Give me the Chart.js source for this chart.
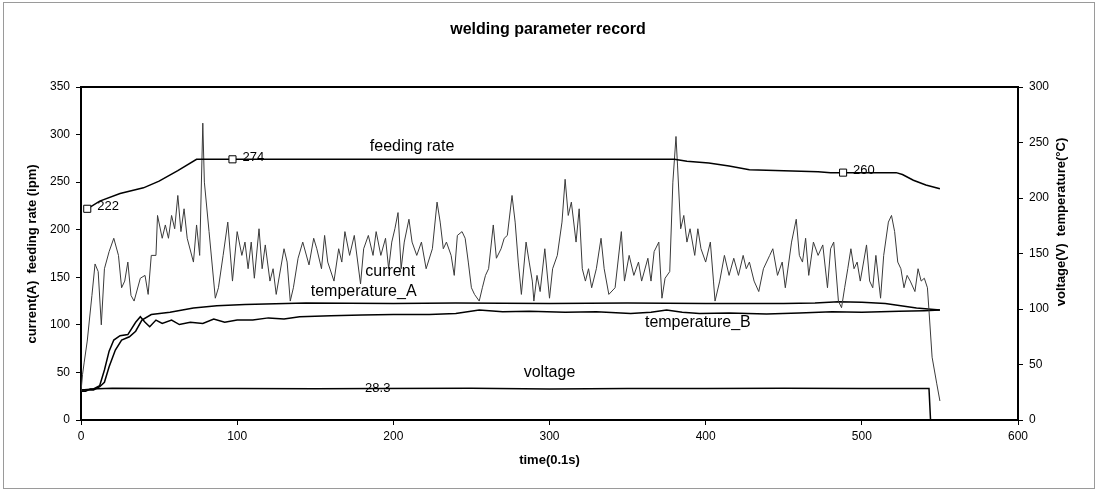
<!DOCTYPE html>
<html>
<head>
<meta charset="utf-8">
<script src="https://cdn.jsdelivr.net/npm/chart.js@4.4.0/dist/chart.umd.min.js"></script>
<style>
  html, body { margin: 0; padding: 0; background: #fff; }
  #wrap { position: relative; width: 1096px; height: 499px; }
</style>
</head>
<body>
<div id="wrap"><canvas id="weldChart"></canvas></div>
<script>
// time axis is in 0.1 s steps
const xTicks = [0, 100, 200, 300, 400, 500, 600];
const leftTicks = [0, 50, 100, 150, 200, 250, 300, 350];
const rightTicks = [0, 50, 100, 150, 200, 250, 300];

// feeding rate (ipm), left axis
const feedTime = [4, 12, 25, 40, 50, 62, 74, 97, 150, 200, 250, 300, 350, 380, 388, 402, 415, 428, 450, 472, 480, 488, 522, 526, 533, 541, 550];
const feedRate = [222, 230, 238, 244, 251, 262, 274, 274, 274, 274, 274, 274, 274, 274, 272, 270, 267, 263, 262, 261, 260, 260, 260, 258, 252, 247, 243];
const feedMarked = [0, 7, 21];

// welding current (A), left axis
const currentTime = [0, 1, 2, 4, 7, 9, 11, 13, 15, 18, 21, 24, 26, 28, 30, 32, 34, 38, 41, 43, 45, 48, 49, 52, 54, 56, 58, 60, 62, 64, 66, 68, 72, 74, 76, 78, 79, 82, 86, 88, 91, 94, 97, 100, 103, 105, 107, 109, 111,
  114, 116, 118, 121, 123, 125, 130, 132, 134, 136, 139, 142, 146, 149, 151, 154, 156, 158, 162, 165, 167, 169, 172, 175, 179, 181, 184, 187, 189, 192, 195, 197, 199, 201, 203, 205, 207, 210, 212, 215, 218, 221, 225,
  228, 230, 232, 234, 237, 239, 241, 244, 246, 248, 250, 252, 255, 257, 259, 261, 264, 266, 269, 271, 273, 276, 278, 280, 282, 285, 287, 289, 290, 292, 294, 297, 300, 302, 305, 308, 310, 312, 314, 317, 319, 321, 323, 325, 327, 330, 333, 335, 338,
  342, 346, 348, 351, 354, 357, 359, 363, 365, 367, 370, 372, 374, 377, 379, 381, 382, 384, 386, 388, 390, 393, 395, 397, 400, 403, 405, 406, 409, 412, 415, 418, 421, 424, 426, 428, 431, 434, 437, 441, 443, 446, 449, 451,
  455, 458, 460, 462, 464, 466, 469, 472, 475, 478, 480, 482, 485, 487, 489, 491, 493, 495, 497, 499, 503, 505, 507, 509, 512, 514, 517, 519, 521, 523, 525, 527, 529, 531, 534, 536, 538, 540, 542, 543, 545, 548, 550];
const currentValue = [30, 48, 60, 83, 131, 164, 156, 100, 159, 177, 191, 173, 139, 146, 166, 131, 125, 149, 152, 132, 173, 173, 215, 191, 205, 191, 215, 201, 236, 198, 222, 191, 166, 205, 173, 312, 250, 198, 128, 139, 173, 208, 146, 198, 173, 187, 159, 187, 149,
  201, 159, 184, 146, 159, 132, 180, 166, 125, 139, 170, 187, 163, 191, 180, 159, 194, 166, 146, 180, 166, 198, 173, 194, 143, 180, 194, 173, 198, 173, 191, 159, 187, 201, 218, 159, 187, 211, 187, 173, 187, 159, 180,
  229, 208, 180, 187, 173, 152, 194, 198, 191, 166, 139, 132, 125, 139, 152, 159, 205, 170, 180, 191, 194, 236, 208, 166, 132, 187, 166, 146, 125, 152, 135, 180, 128, 159, 173, 208, 253, 215, 229, 187, 222, 159, 146, 159, 139, 159, 191, 159, 132,
  139, 198, 146, 173, 152, 166, 146, 170, 146, 177, 187, 128, 149, 156, 250, 298, 267, 201, 215, 187, 201, 173, 201, 180, 166, 187, 146, 125, 146, 173, 152, 170, 152, 173, 159, 166, 146, 135, 159, 173, 180, 152, 166, 139,
  187, 211, 173, 166, 191, 152, 187, 173, 184, 139, 180, 187, 125, 118, 139, 159, 180, 159, 166, 146, 184, 146, 139, 173, 128, 173, 208, 215, 198, 166, 159, 139, 152, 146, 135, 159, 146, 149, 139, 115, 66, 38, 20];

// temperatures (°C), right axis
const tempATime = [0, 8, 12, 15, 18, 22, 26, 31, 35, 39, 45, 57, 72, 87, 105, 144, 200, 240, 300, 350, 400, 450, 470, 485, 500, 515, 525, 535, 550];
const tempAValue = [27, 27, 30, 34, 48, 63, 72, 75, 80, 90, 95, 97, 101, 103, 104, 105.5, 105, 105.5, 105, 105.5, 105, 105, 105.5, 106.5, 106, 105, 103, 101, 99];
const tempBTime = [0, 8, 12, 15, 18, 21, 25, 30, 35, 38, 41, 44, 48, 52, 58, 63, 70, 78, 85, 92, 100, 110, 120, 130, 140, 160, 180, 200, 223, 240, 255, 270, 287, 310, 330, 352, 365, 375, 385, 396, 415, 439, 460, 481, 500, 524, 540, 550];
const tempBValue = [27, 28, 31, 45, 62, 72, 76, 77, 88, 93, 88, 84, 90, 87, 90, 86, 88, 87, 91, 88, 90, 90, 92, 91, 93, 94, 94.5, 95, 95, 96, 99, 97.5, 98, 97, 97.5, 96, 97, 99, 97, 96, 96.5, 95.5, 96.5, 97.5, 97, 98, 98.5, 99];

// welding voltage (V), right axis
const voltTime = [0, 3, 6, 20, 60, 100, 150, 190, 250, 300, 350, 400, 450, 500, 543, 544];
const voltValue = [26, 26, 28, 28.5, 28.4, 28.3, 28.2, 28.3, 28.5, 28.0, 28.3, 28.3, 28.5, 28.4, 28.3, 0];
const voltMarked = [7];

// series names written inside the plot (time, left-axis value)
const seriesNames = [
  { text: 'feeding rate', t: 212, v: 287 },
  { text: 'current', t: 198, v: 156 },
  { text: 'temperature_A', t: 181, v: 134.6 },
  { text: 'temperature_B', t: 395, v: 102 },
  { text: 'voltage', t: 300, v: 49.4 }
];

const FONT = "'Liberation Sans', Arial, sans-serif";

function toPoints(xs, ys) {
  return xs.map((x, i) => ({ x: x, y: ys[i] }));
}

const textPlugin = {
  id: 'weldText',
  beforeDraw(chart) {
    const c = chart.ctx;
    c.save();
    c.strokeStyle = '#9a9a9a';
    c.lineWidth = 1;
    c.strokeRect(3.5, 2.5, 1091, 486);
    c.restore();
  },
  afterDraw(chart) {
    const c = chart.ctx;
    const area = chart.chartArea;
    const sx = chart.scales.x, sy = chart.scales.y;
    c.save();
    c.fillStyle = '#000';

    // plot frame top line
    c.strokeStyle = '#000';
    c.lineWidth = 2;
    c.beginPath();
    c.moveTo(area.left, area.top);
    c.lineTo(area.right, area.top);
    c.stroke();

    // title
    c.font = 'bold 16px ' + FONT;
    c.textAlign = 'center';
    c.textBaseline = 'middle';
    c.fillText('welding parameter record', 548, 30);

    // axis titles
    c.font = 'bold 13px ' + FONT;
    c.fillText('time(0.1s)', (area.left + area.right) / 2, 460);
    c.save();
    c.translate(32, 254);
    c.rotate(-Math.PI / 2);
    c.fillText('current(A)  feeding rate (ipm)', 0, 0);
    c.restore();
    c.save();
    c.translate(1061, 222);
    c.rotate(-Math.PI / 2);
    c.fillText('voltage(V)  temperature(\u00b0C)', 0, 0);
    c.restore();

    // series names
    c.font = '16px ' + FONT;
    seriesNames.forEach(s => {
      c.fillText(s.text, sx.getPixelForValue(s.t), sy.getPixelForValue(s.v));
    });

    // data labels
    c.font = '13px ' + FONT;
    c.textAlign = 'left';
    const feedMeta = chart.getDatasetMeta(0);
    feedMarked.forEach(i => {
      const p = feedMeta.data[i];
      c.fillText(String(feedRate[i]), p.x + 10, p.y - 2);
    });
    const voltMeta = chart.getDatasetMeta(4);
    c.textAlign = 'center';
    c.textBaseline = 'alphabetic';
    voltMarked.forEach(i => {
      const p = voltMeta.data[i];
      c.fillText(voltValue[i].toFixed(1), p.x, p.y + 3);
    });
    c.restore();
  }
};

const ctx = document.getElementById('weldChart').getContext('2d');
new Chart(ctx, {
  type: 'line',
  data: {
    datasets: [
      {
        label: 'feeding rate',
        data: toPoints(feedTime, feedRate),
        yAxisID: 'y',
        borderColor: '#000',
        borderWidth: 1.5,
        pointStyle: 'rect',
        pointRadius: c => feedMarked.includes(c.dataIndex) ? 5 : 0,
        pointBackgroundColor: '#fff',
        pointBorderColor: '#000',
        pointBorderWidth: 1
      },
      {
        label: 'current',
        data: toPoints(currentTime, currentValue),
        yAxisID: 'y',
        borderColor: '#3a3a3a',
        borderWidth: 1,
        pointRadius: 0
      },
      {
        label: 'temperature_A',
        data: toPoints(tempATime, tempAValue),
        yAxisID: 'y2',
        borderColor: '#000',
        borderWidth: 1.5,
        pointRadius: 0
      },
      {
        label: 'temperature_B',
        data: toPoints(tempBTime, tempBValue),
        yAxisID: 'y2',
        borderColor: '#000',
        borderWidth: 1.5,
        pointRadius: 0
      },
      {
        label: 'voltage',
        data: toPoints(voltTime, voltValue),
        yAxisID: 'y2',
        borderColor: '#000',
        borderWidth: 1.5,
        pointRadius: 0
      }
    ]
  },
  options: {
    responsive: true,
    maintainAspectRatio: false,
    animation: false,
    layout: { padding: { top: 87, left: 0, right: 0, bottom: 0 } },
    plugins: {
      legend: { display: false },
      tooltip: { enabled: false }
    },
    scales: {
      x: {
        type: 'linear',
        min: 0,
        max: 600,
        afterBuildTicks: s => { s.ticks = xTicks.map(v => ({ value: v })); },
        afterFit: s => { s.height = 79; },
        grid: { drawOnChartArea: false, color: '#000', tickLength: 5 },
        border: { color: '#000', width: 2 },
        ticks: { color: '#000', font: { family: FONT, size: 12 }, padding: 4 }
      },
      y: {
        position: 'left',
        min: 0,
        max: 350,
        afterBuildTicks: s => { s.ticks = leftTicks.map(v => ({ value: v })); },
        afterFit: s => { s.width = 81; },
        grid: { drawOnChartArea: false, color: '#000', tickLength: 5 },
        border: { color: '#000', width: 2 },
        ticks: { color: '#000', font: { family: FONT, size: 12 }, padding: 6 }
      },
      y2: {
        position: 'right',
        min: 0,
        max: 300,
        afterBuildTicks: s => { s.ticks = rightTicks.map(v => ({ value: v })); },
        afterFit: s => { s.width = 78; },
        grid: { drawOnChartArea: false, color: '#000', tickLength: 5 },
        border: { color: '#000', width: 2 },
        ticks: { color: '#000', font: { family: FONT, size: 12 }, padding: 6 }
      }
    }
  },
  plugins: [textPlugin]
});
</script>
</body>
</html>
